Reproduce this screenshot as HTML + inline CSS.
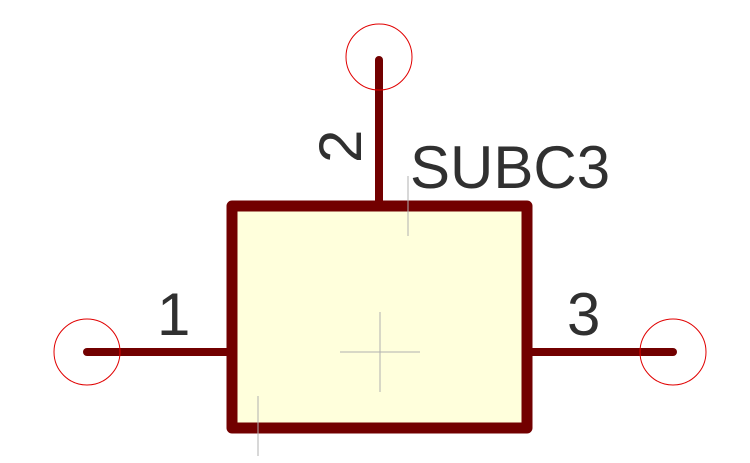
<!DOCTYPE html>
<html><head><style>body{margin:0;background:#fff}</style></head><body>
<svg width="750" height="458" xmlns="http://www.w3.org/2000/svg">
<rect x="232" y="206" width="295" height="222" fill="#ffffdc" stroke="#720000" stroke-width="11" stroke-linejoin="round"/>
<g stroke="#720000" stroke-width="8" stroke-linecap="round">
<line x1="87" y1="352" x2="232" y2="352"/>
<line x1="527" y1="352" x2="673" y2="352"/>
<line x1="379" y1="60" x2="379" y2="206"/>
</g>
<g fill="none" stroke="#e00000" stroke-width="1">
<circle cx="87" cy="352" r="33"/>
<circle cx="673" cy="352" r="33"/>
<circle cx="379" cy="57" r="33"/>
</g>
<g stroke="#b0b0b0" stroke-width="1">
<line x1="340" y1="352" x2="420" y2="352"/>
<line x1="380" y1="312" x2="380" y2="392"/>
<line x1="408" y1="176" x2="408" y2="236"/>
<line x1="258" y1="396" x2="258" y2="456"/>
</g>
<g font-family="Liberation Sans, sans-serif" font-size="60" fill="#303030">
<text x="157" y="335">1</text>
<text x="567" y="335">3</text>
<text x="410" y="188">SUBC3</text>
<text transform="translate(361,163) rotate(-90)">2</text>
</g>
</svg>
</body></html>
